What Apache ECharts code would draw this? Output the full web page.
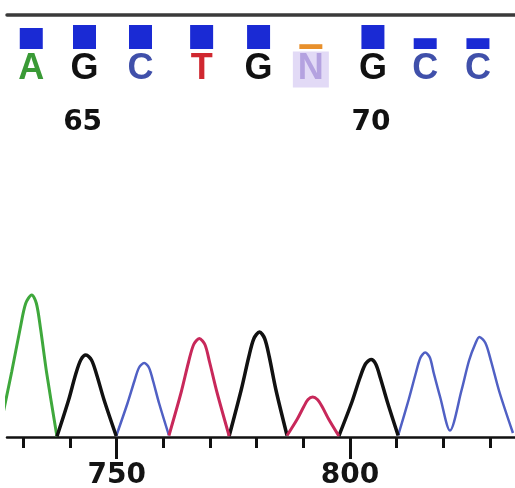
<!DOCTYPE html>
<html>
<head>
<meta charset="utf-8">
<script src="https://cdn.jsdelivr.net/npm/echarts@6/dist/echarts.min.js"></script>
<style>html,body{margin:0;padding:0;background:#fff}#c{width:515px;height:488px}</style>
</head>
<body>
<div id="c"></div>
<script>
// ---- data ----
const baseCalls = ['A', 'G', 'C', 'T', 'G', 'N', 'G', 'C', 'C'];
const baseNumbers = [64, 65, 66, 67, 68, 69, 70, 71, 72];
const basePositions = [731.7, 743.1, 755.1, 768.2, 780.4, 791.6, 804.9, 816.1, 827.4];
const qualityScores = [35, 40, 40, 40, 40, 8, 40, 18, 18];
const numberLabels = [65, 70];

// trace peaks: [scan position, signal]
const traceA = [
  [[724.6, 0], [727.5, 650], [729.3, 1080], [730.5, 1335], [731.8, 1420], [732.8, 1335], [733.7, 1080], [735.0, 640], [737.2, 5]]
];
const traceG = [
  [[737.2, 5], [739.7, 370], [741.2, 625], [742.3, 770], [743.4, 820], [744.6, 770], [745.7, 625], [747.3, 370], [749.9, 10]],
  [[774.1, 10], [776.7, 475], [778.3, 800], [779.4, 985], [780.6, 1050], [781.7, 985], [782.7, 800], [784.1, 475], [786.5, 15]],
  [[797.6, 10], [800.4, 350], [802.1, 590], [803.3, 730], [804.5, 775], [805.5, 730], [806.5, 590], [808.0, 350], [810.3, 15]]
];
const traceC = [
  [[749.9, 10], [752.3, 335], [753.8, 560], [754.8, 695], [755.9, 740], [756.9, 695], [757.8, 560], [759.1, 335], [761.2, 15]],
  [[810.3, 15], [812.6, 380], [814.1, 640], [815.1, 795], [816.1, 845], [817.1, 795], [817.9, 645], [819.3, 400], [821.4, 65],
   [823.9, 470], [825.5, 765], [826.9, 940], [827.7, 1000], [829.0, 940], [830.2, 760], [832.0, 450], [834.9, 40]]
];
const traceT = [
  [[761.2, 15], [763.8, 445], [765.4, 750], [766.5, 925], [767.7, 985], [768.9, 925], [769.9, 750], [771.5, 445], [774.1, 10]],
  [[786.5, 15], [788.7, 180], [790.1, 305], [791.0, 375], [792.0, 400], [793.0, 375], [794.0, 305], [795.4, 180], [797.6, 10]]
];

const tickValues = [730, 740, 750, 760, 770, 780, 790, 800, 810, 820, 830];
const tickLabels = [750, 800];

// ---- styles ----
const X_MIN = 726.5, X_MAX = 835.34;
const channelColors = { A: '#3fa83c', C: '#5060c4', G: '#111111', T: '#c8285a' };
const channelWidths = { A: 3, C: 2.5, G: 3.5, T: 3 };
const letterColors = { A: '#3a9a36', C: '#4050aa', G: '#111111', T: '#d02830', N: '#b4a2e0' };

const series = [];
[['A', traceA], ['C', traceC], ['G', traceG], ['T', traceT]].forEach(([ch, peaks]) => {
  peaks.forEach(pk => {
    series.push({
      type: 'line', xAxisIndex: 0, yAxisIndex: 0, data: pk,
      smooth: 0.3, showSymbol: false, clip: true, silent: true,
      lineStyle: { color: channelColors[ch], width: channelWidths[ch] }
    });
  });
});

series.push({
  type: 'bar', xAxisIndex: 2, yAxisIndex: 1, barWidth: 23, silent: true,
  data: basePositions.map((x, i) => ({
    value: [x, qualityScores[i]],
    itemStyle: { color: qualityScores[i] < 10 ? '#e8902c' : '#1a2ad4' }
  }))
});

series.push({
  type: 'scatter', xAxisIndex: 3, yAxisIndex: 2, symbolSize: 1, silent: true,
  itemStyle: { color: 'rgba(0,0,0,0)', opacity: 1 },
  data: basePositions.map((x, i) => ({
    value: [x, 70.5],
    label: {
      show: true, position: 'inside', formatter: baseCalls[i],
      color: letterColors[baseCalls[i]], fontSize: 36, fontWeight: 'bold',
      fontFamily: 'Liberation Sans', textBorderWidth: 0,
      backgroundColor: baseCalls[i] === 'N' ? '#e2daf6' : 'transparent',
      padding: baseCalls[i] === 'N' ? [0, 5, 0, 5] : 0
    }
  }))
});

series.push({
  type: 'scatter', xAxisIndex: 3, yAxisIndex: 2, symbolSize: 1, silent: true,
  itemStyle: { color: 'rgba(0,0,0,0)', opacity: 1 },
  data: basePositions.map((x, i) => ({ x, n: baseNumbers[i] }))
    .filter(d => numberLabels.includes(d.n))
    .map(d => ({
      value: [d.x - 0.4, 17.5],
      label: {
        show: true, position: 'inside', formatter: String(d.n), textBorderWidth: 0,
        color: '#111111', fontSize: 28, fontWeight: 'bold', fontFamily: 'DejaVu Sans'
      }
    }))
});

const chart = echarts.init(document.getElementById('c'), null, { renderer: 'canvas' });
chart.setOption({
  animation: false,
  backgroundColor: '#ffffff',
  grid: [
    { left: 7, right: 0, top: 287, bottom: 51, containLabel: false, outerBoundsMode: 'none' },
    { left: 7, right: 0, top: 25, height: 24, containLabel: false, outerBoundsMode: 'none' },
    { left: 7, right: 0, top: 50, height: 90, containLabel: false, outerBoundsMode: 'none' }
  ],
  xAxis: [
    {
      type: 'value', gridIndex: 0, min: X_MIN, max: X_MAX, position: 'bottom',
      splitLine: { show: false },
      axisLine: { show: true, onZero: false, lineStyle: { color: '#111', width: 2.5 } },
      axisTick: { show: true, customValues: tickValues, length: 11, lineStyle: { color: '#111', width: 3 } },
      axisLabel: {
        show: true, customValues: tickLabels, margin: 25, fontSize: 28, fontWeight: 'bold',
        fontFamily: 'DejaVu Sans', color: '#141414'
      }
    },
    {
      type: 'value', gridIndex: 0, min: X_MIN, max: X_MAX, position: 'bottom', offset: 0,
      splitLine: { show: false },
      axisLine: { show: false, onZero: false },
      axisTick: { show: true, customValues: tickLabels, length: 22, lineStyle: { color: '#111', width: 3 } },
      axisLabel: { show: false }
    },
    {
      type: 'value', gridIndex: 1, min: X_MIN, max: X_MAX, position: 'top', offset: 10,
      splitLine: { show: false },
      axisLine: { show: true, onZero: false, lineStyle: { color: '#3a3a3a', width: 3.5 } },
      axisTick: { show: false }, axisLabel: { show: false }
    },
    {
      type: 'value', gridIndex: 2, min: X_MIN, max: X_MAX, show: false
    }
  ],
  yAxis: [
    { type: 'value', gridIndex: 0, min: 0, max: 1500, show: false },
    { type: 'value', gridIndex: 1, min: 0, max: 40, show: false },
    { type: 'value', gridIndex: 2, min: 0, max: 90, show: false }
  ],
  series
});
</script>
</body>
</html>
